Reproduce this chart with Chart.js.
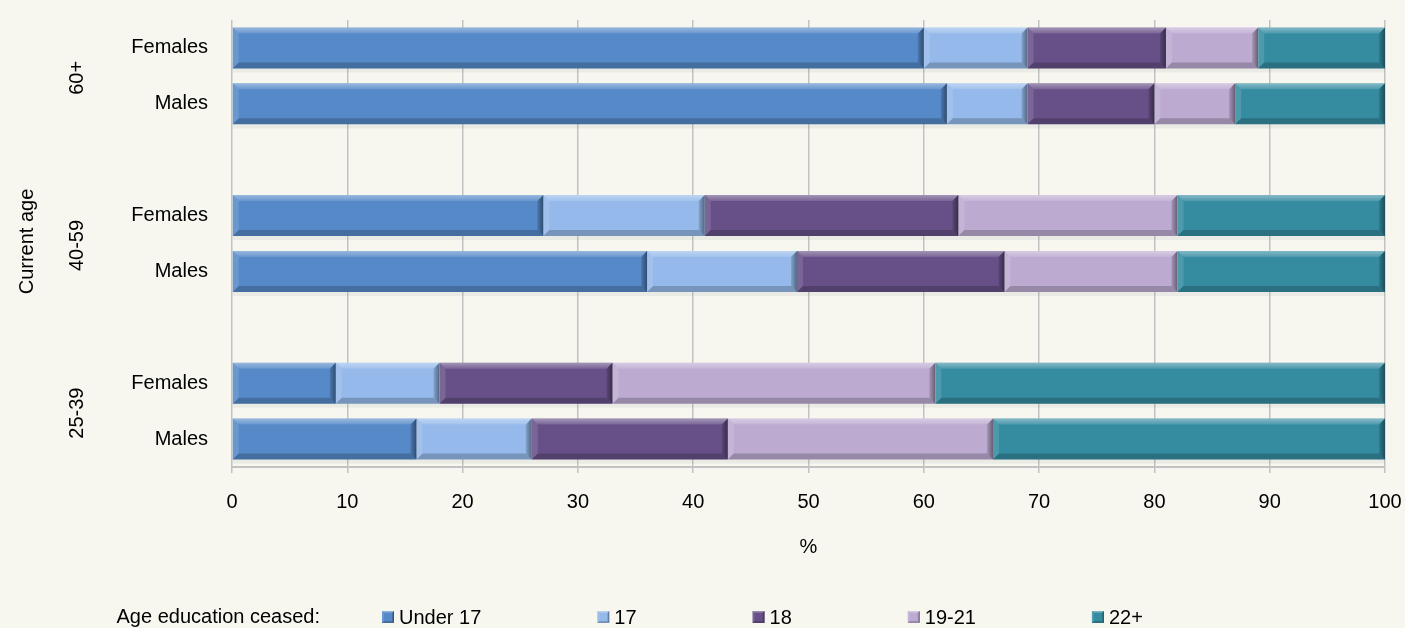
<!DOCTYPE html>
<html>
<head>
<meta charset="utf-8">
<script src="https://cdn.jsdelivr.net/npm/chart.js@4"></script>
<style>
  html, body { margin: 0; padding: 0; background: #f7f7f0; }
  #wrap { width: 1405px; height: 628px; }
</style>
</head>
<body>
<div id="wrap"><canvas id="myChart" width="1405" height="628"></canvas></div>
<script>
// age groups (top to bottom) and the two rows inside each group
var groups = ['60+', '40-59', '25-39'];
var sexes = ['Females', 'Males'];

// % of each row by age education ceased; order: 60+ F, 60+ M, 40-59 F, 40-59 M, 25-39 F, 25-39 M
var under17   = [60, 62, 27, 36,  9, 16];
var age17     = [ 9,  7, 14, 13,  9, 10];
var age18     = [12, 11, 22, 18, 15, 17];
var age19to21 = [ 8,  7, 19, 15, 28, 23];
var age22plus = [11, 13, 18, 18, 39, 34];

var xTicks = [0, 10, 20, 30, 40, 50, 60, 70, 80, 90, 100];

var FONT = '"Liberation Sans", Arial, sans-serif';

// put an empty row between the groups
function slots(arr) {
    var out = [];
    for (var g = 0; g < groups.length; g++) {
        if (g > 0) out.push(null);
        out.push(arr[g * 2], arr[g * 2 + 1]);
    }
    return out;
}
var rowLabels = slots(groups.map(function () { return sexes; }).flat()).map(function (s) { return s || ''; });

function series(label, values, color) {
    return {
        label: label,
        data: slots(values),
        backgroundColor: color,
        borderWidth: 0,
        barPercentage: 0.735,
        categoryPercentage: 1
    };
}

function bevelBox(ctx, l, t, r, b, s) {
    // top highlight
    var g = ctx.createLinearGradient(0, t, 0, t + s);
    g.addColorStop(0, 'rgba(255,255,255,0.40)');
    g.addColorStop(1, 'rgba(255,255,255,0.12)');
    ctx.fillStyle = g;
    ctx.beginPath();
    ctx.moveTo(l, t); ctx.lineTo(r, t); ctx.lineTo(r - s, t + s); ctx.lineTo(l + s, t + s);
    ctx.closePath(); ctx.fill();
    // left
    ctx.fillStyle = 'rgba(255,255,255,0.12)';
    ctx.beginPath();
    ctx.moveTo(l, t); ctx.lineTo(l + s, t + s); ctx.lineTo(l + s, b - s); ctx.lineTo(l, b);
    ctx.closePath(); ctx.fill();
    // bottom
    ctx.fillStyle = 'rgba(0,0,0,0.20)';
    ctx.beginPath();
    ctx.moveTo(l, b); ctx.lineTo(l + s, b - s); ctx.lineTo(r - s, b - s); ctx.lineTo(r, b);
    ctx.closePath(); ctx.fill();
    // right
    var h = ctx.createLinearGradient(r - s, 0, r, 0);
    h.addColorStop(0, 'rgba(0,0,0,0.12)');
    h.addColorStop(1, 'rgba(0,0,0,0.45)');
    ctx.fillStyle = h;
    ctx.beginPath();
    ctx.moveTo(r, t); ctx.lineTo(r, b); ctx.lineTo(r - s, b - s); ctx.lineTo(r - s, t + s);
    ctx.closePath(); ctx.fill();
}

function eachBar(chart, fn) {
    chart.getSortedVisibleDatasetMetas().forEach(function (meta) {
        var ds = chart.data.datasets[meta.index];
        meta.data.forEach(function (bar, i) {
            if (ds.data[i] == null) return;
            var p = bar.getProps(['x', 'y', 'base', 'height'], true);
            fn(Math.min(p.x, p.base), p.y - p.height / 2, Math.max(p.x, p.base), p.y + p.height / 2);
        });
    });
}

var bevelPlugin = {
    id: 'bevel',
    beforeDatasetsDraw: function (chart) {
        var ctx = chart.ctx;
        ctx.save();
        ctx.fillStyle = 'rgba(120,140,130,0.10)';
        eachBar(chart, function (l, t, r, b) { ctx.fillRect(l, b, r - l, 4); });
        ctx.restore();
    },
    afterDatasetsDraw: function (chart) {
        var ctx = chart.ctx;
        ctx.save();
        eachBar(chart, function (l, t, r, b) { bevelBox(ctx, l, t, r, b, 6); });
        ctx.restore();
    }
};

var textPlugin = {
    id: 'texts',
    afterDraw: function (chart) {
        var ctx = chart.ctx, area = chart.chartArea, y = chart.scales.y;
        ctx.save();
        ctx.fillStyle = '#000';
        ctx.font = '20px ' + FONT;
        ctx.textAlign = 'center';
        ctx.textBaseline = 'middle';

        // group labels and axis title, rotated
        groups.forEach(function (g, i) {
            var mid = (y.getPixelForValue(i * 3) + y.getPixelForValue(i * 3 + 1)) / 2;
            ctx.save();
            ctx.translate(77, mid + 2);
            ctx.rotate(-Math.PI / 2);
            ctx.fillText(g, 0, 0);
            ctx.restore();
        });
        ctx.save();
        ctx.translate(27, (area.top + area.bottom) / 2 - 2);
        ctx.rotate(-Math.PI / 2);
        ctx.fillText('Current age', 0, 0);
        ctx.restore();

        // x axis title
        ctx.fillText('%', (area.left + area.right) / 2, 547);

        // legend
        var ly = 617;
        ctx.textAlign = 'right';
        ctx.fillText('Age education ceased:', 320, ly);
        ctx.textAlign = 'left';
        var x = 382;
        chart.data.datasets.forEach(function (ds) {
            ctx.fillStyle = ds.backgroundColor;
            ctx.fillRect(x, ly - 6, 12, 12);
            bevelBox(ctx, x, ly - 6, x + 12, ly + 6, 2);
            ctx.fillStyle = '#000';
            ctx.fillText(ds.label, x + 17, ly + 1);
            x += 17 + ctx.measureText(ds.label).width + 116;
        });
        ctx.restore();
    }
};

var bgPlugin = {
    id: 'bg',
    beforeDraw: function (chart) {
        var ctx = chart.ctx;
        ctx.save();
        ctx.fillStyle = '#f7f7f0';
        ctx.fillRect(0, 0, chart.width, chart.height);
        ctx.restore();
    }
};

var ctx = document.getElementById('myChart').getContext('2d');
var chart = new Chart(ctx, {
    type: 'bar',
    data: {
        labels: rowLabels,
        datasets: [
            series('Under 17', under17, '#5589c8'),
            series('17', age17, '#95b9ea'),
            series('18', age18, '#675088'),
            series('19-21', age19to21, '#bcaad1'),
            series('22+', age22plus, '#358ca1')
        ]
    },
    options: {
        indexAxis: 'y',
        responsive: false,
        animation: false,
        layout: { padding: { top: 20, right: 20, left: 0, bottom: 0 } },
        plugins: {
            legend: { display: false },
            tooltip: { enabled: false }
        },
        scales: {
            x: {
                stacked: true,
                min: 0,
                max: 100,
                afterBuildTicks: function (scale) {
                    scale.ticks = xTicks.map(function (v) { return { value: v }; });
                },
                afterFit: function (scale) {
                    scale.height = 161;
                    scale.paddingLeft = 0;
                    scale.paddingRight = 0;
                },
                ticks: { color: '#000', font: { family: FONT, size: 20 }, padding: 17, maxRotation: 0 },
                grid: { color: '#c2c2c2', lineWidth: 1.5, tickLength: 6 },
                border: { color: '#c2c2c2', width: 2 }
            },
            y: {
                stacked: true,
                afterFit: function (scale) {
                    scale.width = 232;
                    scale.paddingTop = 0;
                    scale.paddingBottom = 0;
                },
                ticks: { color: '#000', font: { family: FONT, size: 20 }, padding: 24 },
                grid: { display: false, drawTicks: false },
                border: { display: false }
            }
        }
    },
    plugins: [bgPlugin, bevelPlugin, textPlugin]
});
</script>
</body>
</html>
